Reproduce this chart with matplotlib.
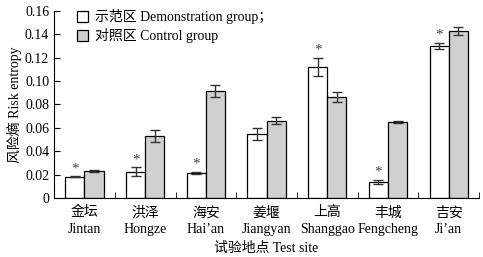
import matplotlib
matplotlib.use('Agg')
import matplotlib.pyplot as plt
import numpy as np

plt.rcParams['font.family'] = ['Liberation Serif', 'Noto Sans CJK SC']
plt.rcParams['font.size'] = 10

# data
sites = ['金坛\nJintan', '洪泽\nHongze', '海安\nHai\u2019an', '姜堰\nJiangyan',
         '上高\nShanggao', '丰城\nFengcheng', '吉安\nJi\u2019an']
demo = [0.018, 0.0225, 0.0215, 0.055, 0.112, 0.0137, 0.130]
demo_err = [0.0005, 0.0037, 0.001, 0.005, 0.008, 0.0015, 0.0025]
ctrl = [0.0233, 0.053, 0.0915, 0.066, 0.0866, 0.0652, 0.1428]
ctrl_err = [0.001, 0.0055, 0.0055, 0.003, 0.0045, 0.001, 0.0033]
signif = [True, True, True, False, True, True, True]

fig = plt.figure(figsize=(4.83, 2.57), dpi=100)
ax = fig.add_axes([0.112, 0.23, 0.88, 0.727])

x = np.arange(len(sites))
w = 0.315
ek = dict(ecolor='#333333', elinewidth=1, capsize=3.5, capthick=1)
ax.bar(x - w / 2, demo, w, yerr=demo_err, color='white', edgecolor='black',
       linewidth=0.9, error_kw=ek, label='示范区 Demonstration group；')
ax.bar(x + w / 2, ctrl, w, yerr=ctrl_err, color='#d0d0d0', edgecolor='black',
       linewidth=0.9, error_kw=ek, label='对照区 Control group')

for i in range(len(sites)):
    if signif[i]:
        ax.text(x[i] - w / 2, demo[i] + demo_err[i] + 0.001, '*', ha='center',
                va='bottom', fontsize=11, color='#444444')

ax.set_xlim(-0.5, 6.5)
ax.set_ylim(0, 0.16)
ax.set_yticks(np.arange(0, 0.161, 0.02))
ax.set_yticklabels(['0'] + ['%.2f' % v for v in np.arange(0.02, 0.161, 0.02)])
ax.set_xticks(x)
ax.set_xticklabels(sites, linespacing=1.35)
ax.set_xticks(np.arange(0.5, 6.6, 1), minor=True)
ax.tick_params(axis='x', which='major', length=0, pad=6)
ax.tick_params(axis='x', which='minor', direction='in', length=4)
ax.tick_params(axis='y', direction='in', length=4)
ax.spines['top'].set_visible(False)
ax.spines['right'].set_visible(False)

ax.set_ylabel('风险熵 Risk entropy', labelpad=2)
ax.set_xlabel('试验地点 Test site', labelpad=4)

ax.legend(loc='upper left', bbox_to_anchor=(0.04, 1.04), frameon=False,
          handlelength=0.8, handleheight=0.8, handletextpad=0.5,
          labelspacing=0.3, borderaxespad=0)

fig.savefig('out.png', dpi=100)
